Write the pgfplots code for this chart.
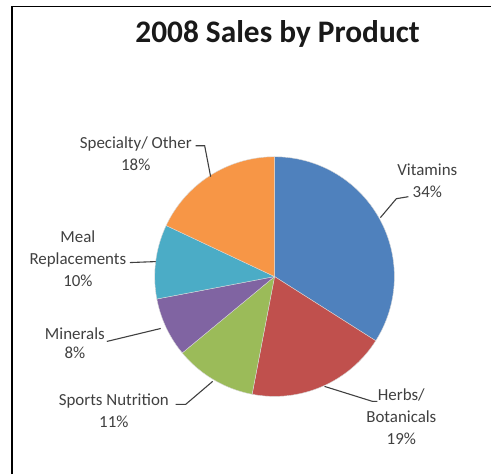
\documentclass[border=0pt]{standalone}
\usepackage{pgfplots}
\pgfplotsset{compat=1.18}
\usepackage{fontspec}
\setmainfont{Carlito}
\definecolor{cBlue}{HTML}{4F81BD}
\definecolor{cRed}{HTML}{C0504D}
\definecolor{cGreen}{HTML}{9BBB59}
\definecolor{cPurple}{HTML}{8064A2}
\definecolor{cAqua}{HTML}{4BACC6}
\definecolor{cOrange}{HTML}{F79646}
\definecolor{txt}{HTML}{404040}
% cumulative share before slice, share, colour
\newcommand{\slice}[3]{%
  \pgfmathsetmacro\sa{90-3.6*#1}%
  \pgfmathsetmacro\sb{90-3.6*(#1+#2)}%
  \addplot[fill=#3, draw=white!85!black, line width=0.4pt, domain=\sb:\sa, samples=80, variable=\t]
    ({275+120*cos(\t)},{277-120*sin(\t)}) -- (axis cs:275,277) -- cycle;
}
\begin{document}
\begin{tikzpicture}
\begin{axis}[
  scale only axis, width=492bp, height=475bp,
  xmin=0, xmax=492, ymin=0, ymax=475, y dir=reverse,
  hide axis, clip=false,
]
\addplot[draw=none, fill=white] coordinates {(0,0) (492,0) (492,475) (0,475)} -- cycle;
% frame (left and top sides visible)
\addplot[black, line width=1.6pt] coordinates {(12,475) (12,6.5) (492,6.5)};
% slices: Vitamins 34, Herbs 19, Sports 11, Minerals 8, Meal 10, Specialty 18
\slice{0}{34}{cBlue}
\slice{34}{19}{cRed}
\slice{53}{11}{cGreen}
\slice{64}{8}{cPurple}
\slice{72}{10}{cAqua}
\slice{82}{18}{cOrange}
% leader lines
\addplot[txt, line width=1.1pt] coordinates {(381,218) (397,199) (409,197)};
\addplot[txt, line width=1.1pt] coordinates {(325,387) (373,402) (378,402)};
\addplot[txt, line width=1.1pt] coordinates {(213,382) (186,405) (176,405)};
\addplot[txt, line width=1.1pt] coordinates {(107,342) (161,329)};
\addplot[txt, line width=1.1pt] coordinates {(130,263) (156,262)};
\addplot[txt, line width=1.1pt] coordinates {(196,146) (205,146) (211,177)};
% title
\node[text=black!90, font=\fontsize{31.5}{36}\selectfont\bfseries] at (axis cs:278,34) {2008 Sales by Product};
% labels
\begin{scope}[every node/.style={text=txt, font=\fontsize{17}{22}\selectfont, align=center}]
\node at (axis cs:428,181) {Vitamins\\34\%};
\node at (axis cs:402,417) {Herbs/\\Botanicals\\19\%};
\node at (axis cs:114,411) {Sports Nutrition\\11\%};
\node[font=\fontsize{17}{19}\selectfont] at (axis cs:75,344) {Minerals\\8\%};
\node at (axis cs:78,259) {Meal\\Replacements\\10\%};
\node at (axis cs:136,154) {Specialty/ Other\\18\%};
\end{scope}
\end{axis}
\end{tikzpicture}
\end{document}
